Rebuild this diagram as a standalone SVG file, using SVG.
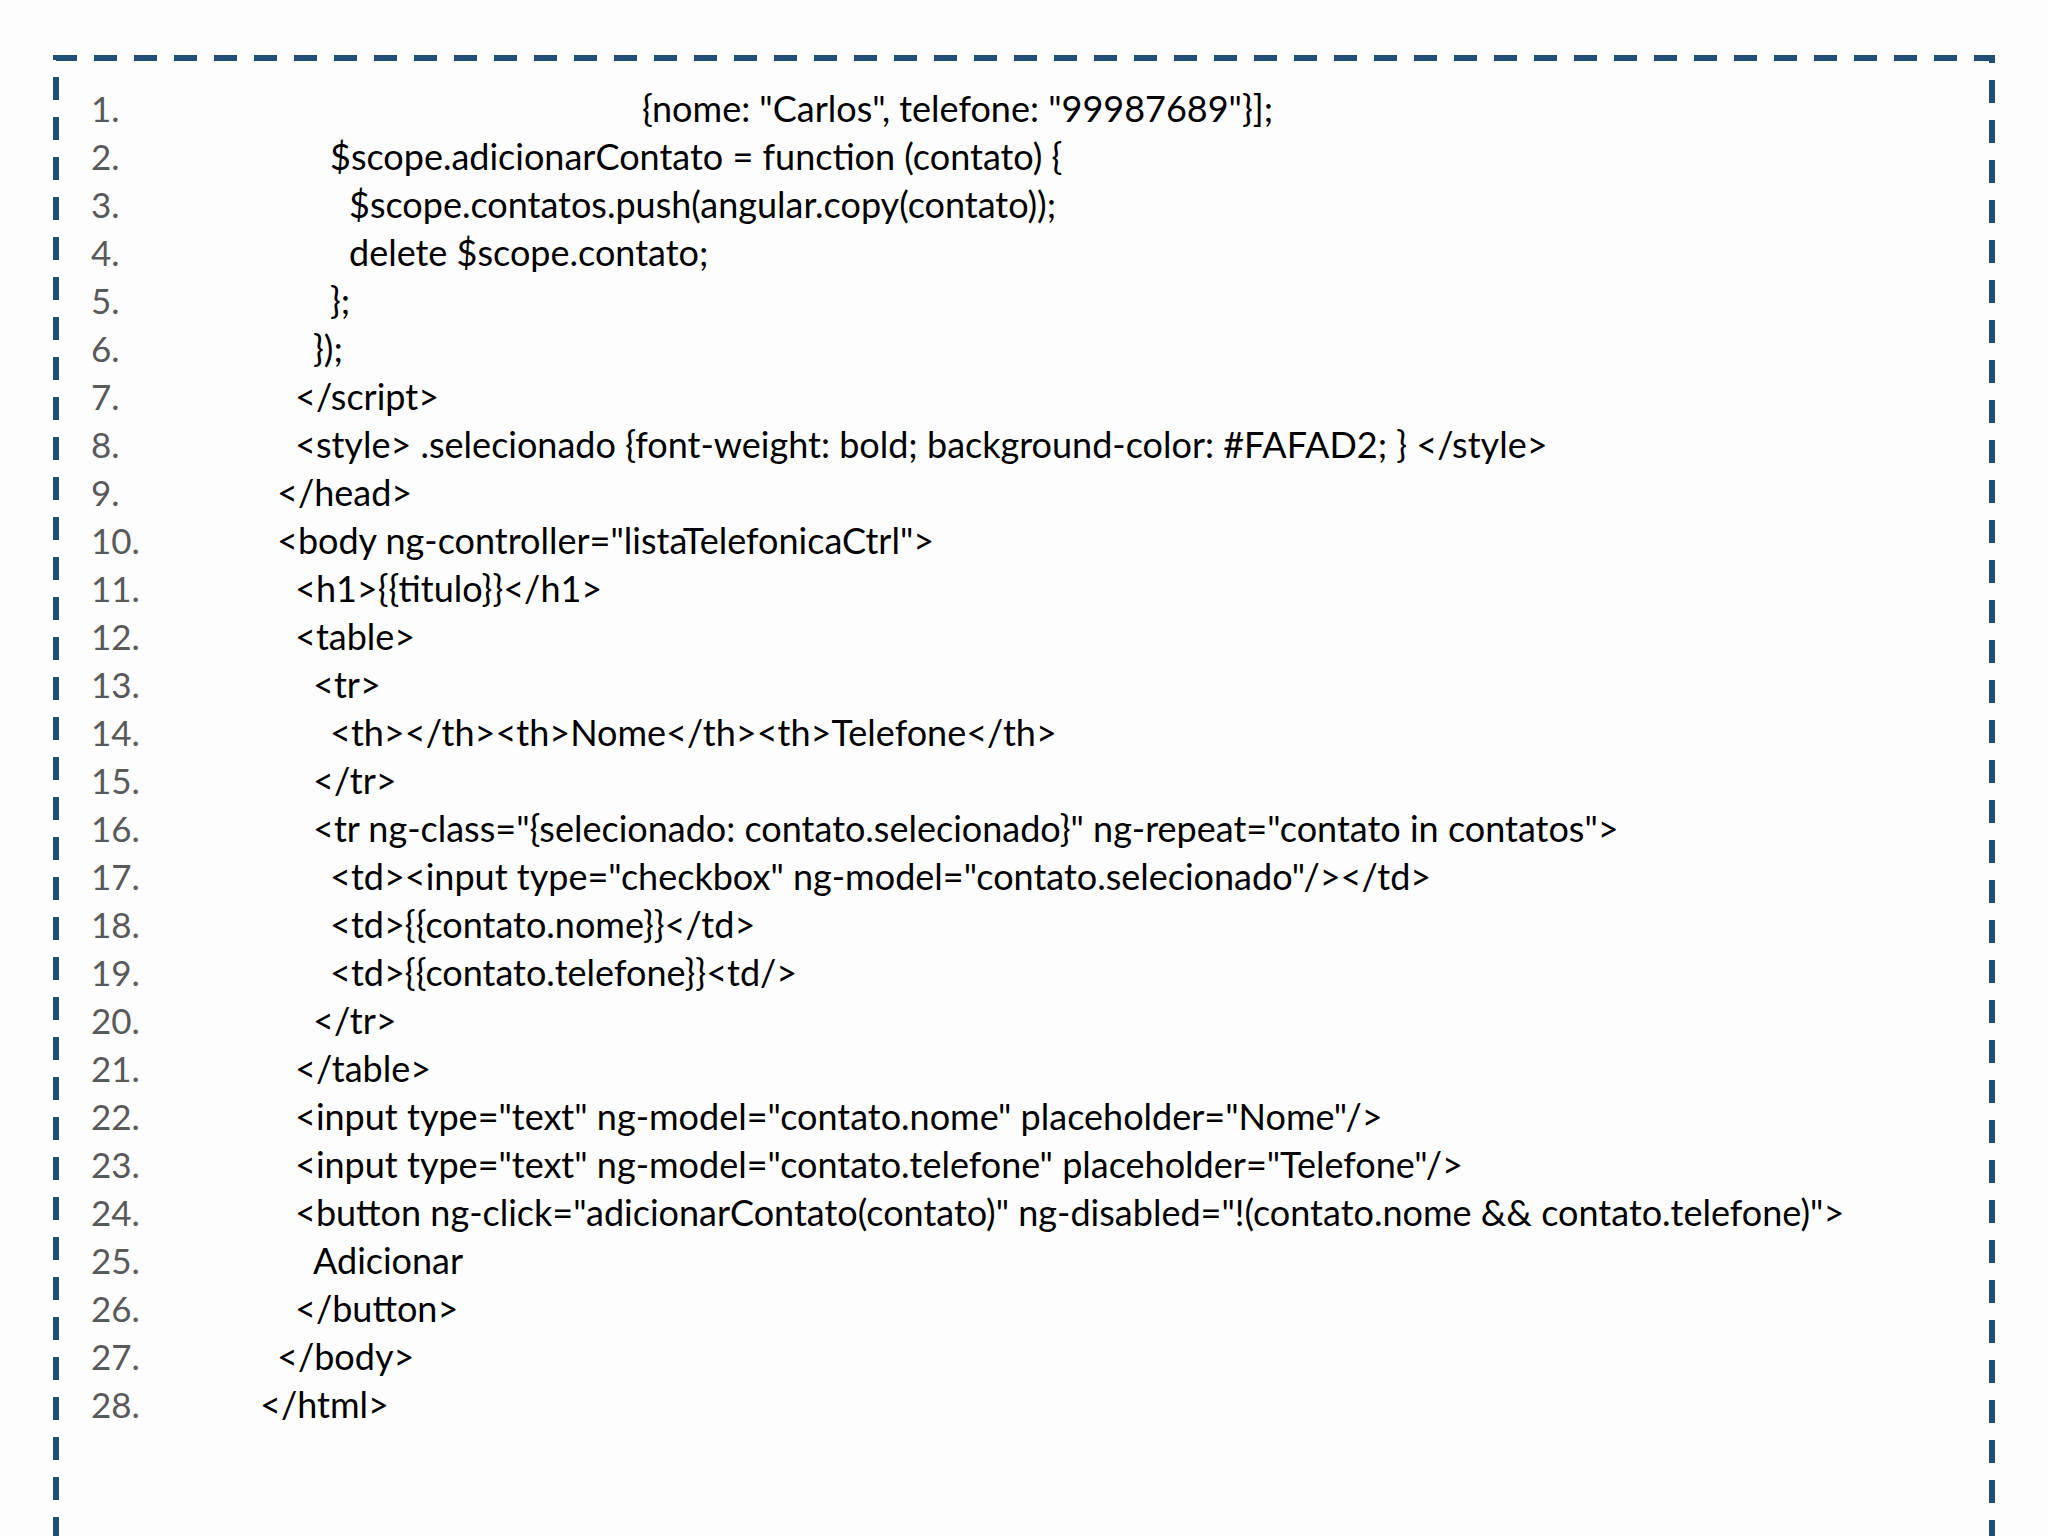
<svg xmlns="http://www.w3.org/2000/svg" width="2048" height="1536" viewBox="0 0 2048 1536">
<style>
.n{font-family:"Lato","Liberation Sans",sans-serif;font-size:35px;fill:#595959}
.c{font-family:"Lato","Liberation Sans",sans-serif;font-size:36px;fill:#000}
</style>
<rect width="2048" height="1536" fill="#fdfdfd"/>
<path d="M56 1540 V58 H1992 V1540" fill="none" stroke="#1f4e79" stroke-width="6" stroke-dasharray="23 17"/>
<g id="numbers" class="n">
<text x="91" y="122">1.</text><text x="91" y="170">2.</text><text x="91" y="218">3.</text><text x="91" y="266">4.</text><text x="91" y="314">5.</text><text x="91" y="362">6.</text><text x="91" y="410">7.</text><text x="91" y="458">8.</text><text x="91" y="506">9.</text><text x="91" y="554">10.</text><text x="91" y="602">11.</text><text x="91" y="650">12.</text><text x="91" y="698">13.</text><text x="91" y="746">14.</text><text x="91" y="794">15.</text><text x="91" y="842">16.</text><text x="91" y="890">17.</text><text x="91" y="938">18.</text><text x="91" y="986">19.</text><text x="91" y="1034">20.</text><text x="91" y="1082">21.</text><text x="91" y="1130">22.</text><text x="91" y="1178">23.</text><text x="91" y="1226">24.</text><text x="91" y="1274">25.</text><text x="91" y="1322">26.</text><text x="91" y="1370">27.</text><text x="91" y="1418">28.</text>
</g>
<g id="code" class="c">
<text x="642" y="122">{nome: "Carlos", telefone: "99987689"}];</text>
<text x="330" y="170">$scope.adicionarContato = function (contato) {</text>
<text x="349" y="218">$scope.contatos.push(angular.copy(contato));</text>
<text x="349" y="266">delete $scope.contato;</text>
<text x="330" y="314">};</text>
<text x="313" y="362">});</text>
<text x="295" y="410">&lt;/script&gt;</text>
<text x="295" y="458">&lt;style&gt; .selecionado {font-weight: bold; background-color: #FAFAD2; } &lt;/style&gt;</text>
<text x="277" y="506">&lt;/head&gt;</text>
<text x="277" y="554">&lt;body ng-controller="listaTelefonicaCtrl"&gt;</text>
<text x="295" y="602">&lt;h1&gt;{{titulo}}&lt;/h1&gt;</text>
<text x="295" y="650">&lt;table&gt;</text>
<text x="313" y="698">&lt;tr&gt;</text>
<text x="330" y="746">&lt;th&gt;&lt;/th&gt;&lt;th&gt;Nome&lt;/th&gt;&lt;th&gt;Telefone&lt;/th&gt;</text>
<text x="313" y="794">&lt;/tr&gt;</text>
<text x="313" y="842">&lt;tr ng-class="{selecionado: contato.selecionado}" ng-repeat="contato in contatos"&gt;</text>
<text x="330" y="890">&lt;td&gt;&lt;input type="checkbox" ng-model="contato.selecionado"/&gt;&lt;/td&gt;</text>
<text x="330" y="938">&lt;td&gt;{{contato.nome}}&lt;/td&gt;</text>
<text x="330" y="986">&lt;td&gt;{{contato.telefone}}&lt;td/&gt;</text>
<text x="313" y="1034">&lt;/tr&gt;</text>
<text x="295" y="1082">&lt;/table&gt;</text>
<text x="295" y="1130">&lt;input type="text" ng-model="contato.nome" placeholder="Nome"/&gt;</text>
<text x="295" y="1178">&lt;input type="text" ng-model="contato.telefone" placeholder="Telefone"/&gt;</text>
<text x="295" y="1226">&lt;button ng-click="adicionarContato(contato)" ng-disabled="!(contato.nome &amp;&amp; contato.telefone)"&gt;</text>
<text x="313" y="1274">Adicionar</text>
<text x="295" y="1322">&lt;/button&gt;</text>
<text x="277" y="1370">&lt;/body&gt;</text>
<text x="260" y="1418">&lt;/html&gt;</text>
</g>
</svg>
